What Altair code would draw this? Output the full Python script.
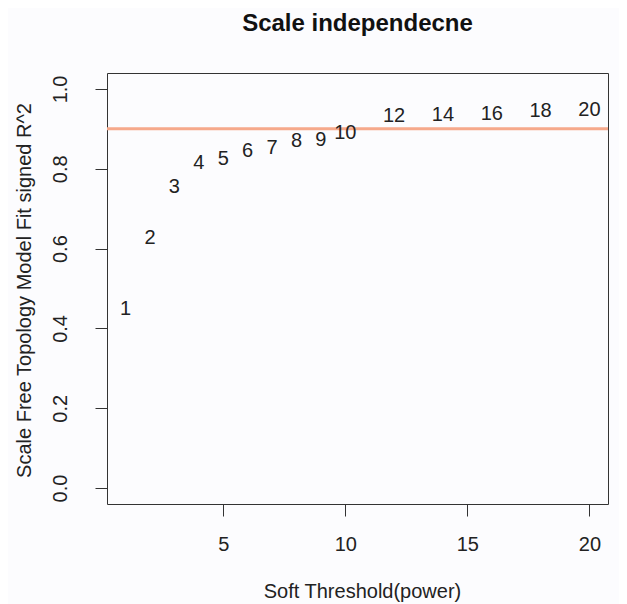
import altair as alt
import pandas as pd

powers = [1, 2, 3, 4, 5, 6, 7, 8, 9, 10, 12, 14, 16, 18, 20]
r2 = [0.452, 0.628, 0.757, 0.816, 0.826, 0.848, 0.855, 0.872, 0.874, 0.893,
      0.934, 0.938, 0.941, 0.947, 0.951]
x_ticks = [5, 10, 15, 20]
y_ticks = [0.0, 0.2, 0.4, 0.6, 0.8, 1.0]
cutoff = [0.9]

df = pd.DataFrame({"power": powers, "r2": r2, "label": [str(p) for p in powers]})
cut_df = pd.DataFrame({"y": cutoff})

FONT = "Liberation Sans"

xscale = alt.Scale(domain=[0.24, 20.76], nice=False, zero=False)
yscale = alt.Scale(domain=[-0.04, 1.04], nice=False, zero=False)

xaxis = alt.Axis(values=x_ticks, title="Soft Threshold(power)", grid=False, domain=False,
                 tickSize=12, tickColor="#333333", labelFontSize=20, labelFont=FONT,
                 labelColor="#222222", labelBaseline="alphabetic", labelPadding=34,
                 titleFont=FONT, titleFontSize=20, titleFontWeight="normal",
                 titleColor="#222222", titleX=255, titleY=93, titleBaseline="alphabetic",
                 titleAlign="center", labelFlush=False)
yaxis = alt.Axis(values=y_ticks, format=".1f", title="Scale Free Topology Model Fit signed R^2",
                 grid=False, domain=False, tickSize=12, tickColor="#333333",
                 labelFontSize=20, labelFont=FONT, labelColor="#222222", labelAngle=270,
                 labelAlign="center", labelBaseline="alphabetic", labelPadding=29,
                 labelFlush=False,
                 titleFont=FONT, titleFontSize=20, titleFontWeight="normal",
                 titleColor="#222222", titleAngle=270, titleX=-77, titleY=217,
                 titleBaseline="alphabetic", titleAlign="center")

base = alt.Chart(df)

text = base.mark_text(font=FONT, fontSize=20, color="#222222", align="center",
                      baseline="alphabetic", dy=7).encode(
    x=alt.X("power:Q", scale=xscale, axis=xaxis),
    y=alt.Y("r2:Q", scale=yscale, axis=yaxis),
    text="label:N",
)

hline = alt.Chart(cut_df).mark_rule(color="#F6A98B", strokeWidth=3).encode(
    y=alt.Y("y:Q", scale=yscale)
)

chart = alt.layer(hline, text).properties(
    width=501,
    height=431,
    autosize="none",
    padding={"left": 99, "top": 65, "right": 11, "bottom": 100},
    background="#fcfcfe",
    title=alt.TitleParams("Scale independecne", font=FONT, fontSize=24, fontWeight="bold",
                          color="#111111", anchor="middle", baseline="alphabetic",
                          offset=18, frame="group"),
).configure_view(stroke="#333333", strokeWidth=1)

chart.save("out.html", embed_options={"renderer": "svg", "actions": False})
